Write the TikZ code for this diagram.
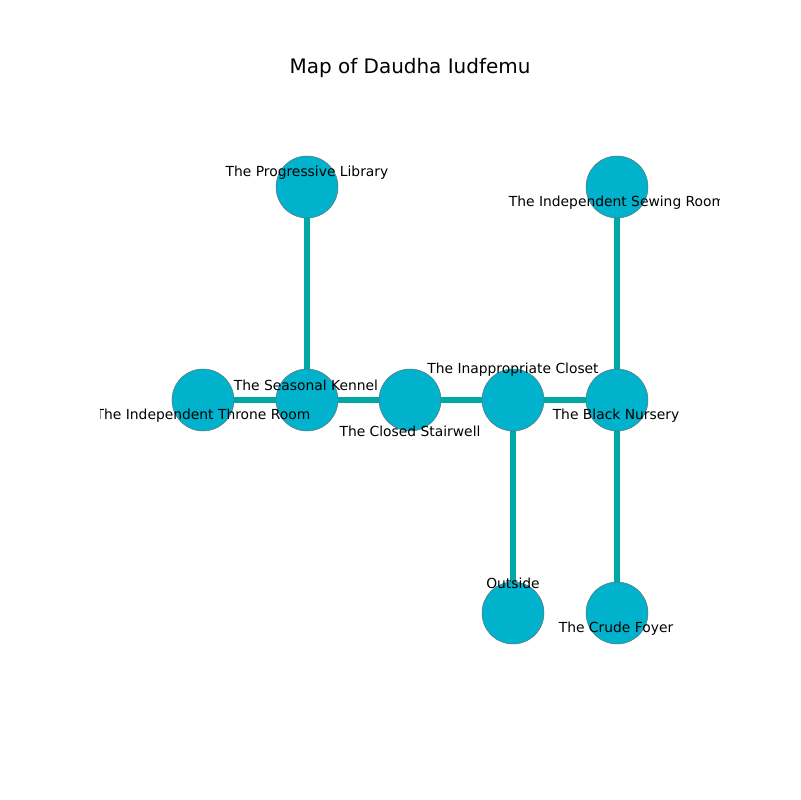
\documentclass[tikz,border=0pt]{standalone}
\usepackage{fontspec}
\setmainfont{DejaVu Sans}
\usetikzlibrary{backgrounds}
\definecolor{roomfill}{HTML}{00B2CC}
\definecolor{halledge}{HTML}{00A8A8}
\tikzstyle{roomnode}=[circle, fill=roomfill, draw=gray!80!black, line width=0.3pt, minimum size=1.55cm, inner sep=0]
\tikzstyle{hallline}=[halledge, line width=4pt]
\tikzstyle{roomlabel}=[font=\fontsize{9.85}{12}\selectfont, inner sep=0]

\begin{document}
\begin{tikzpicture}[x=0.025cm, y=-0.025cm]
      \useasboundingbox (0,0) rectangle (800,800);
      \node[font=\fontsize{14.2}{17}\selectfont] (T) at (410,68) {Map of Daudha Iudfemu};
      % rooms
      \node[roomnode] (N1) at (307,187) {};
      \node[roomnode] (N2) at (617,187) {};
      \node[roomnode] (N3) at (203,400) {};
      \node[roomnode] (N4) at (307,400) {};
      \node[roomnode] (N5) at (410,400) {};
      \node[roomnode] (N6) at (513,400) {};
      \node[roomnode] (N7) at (617,400) {};
      \node[roomnode] (N8) at (513,613) {};
      \node[roomnode] (N9) at (617,613) {};
      % halls
      \begin{scope}[on background layer]
        \draw[hallline] (N1.center) -- (N4.center);
        \draw[hallline] (N3.center) -- (N4.center);
        \draw[hallline] (N4.center) -- (N5.center);
        \draw[hallline] (N5.center) -- (N6.center);
        \draw[hallline] (N6.center) -- (N7.center);
        \draw[hallline] (N2.center) -- (N7.center);
        \draw[hallline] (N6.center) -- (N8.center);
        \draw[hallline] (N7.center) -- (N9.center);
      \end{scope}
      % labels
      \begin{scope}
        \clip (100,96) rectangle (719,712);
        \node[roomlabel] (L1) at (307,173) {The Progressive Library};
        \node[roomlabel] (L2) at (617,203) {The Independent Sewing Room};
        \node[roomlabel] (L3) at (203,416) {The Independent Throne Room};
        \node[roomlabel] (L4) at (306,385) {The Seasonal Kennel};
        \node[roomlabel] (L5) at (410,431) {The Closed Stairwell};
        \node[roomlabel] (L6) at (513,370) {The Inappropriate Closet};
        \node[roomlabel] (L7) at (616,416) {The Black Nursery};
        \node[roomlabel] (L8) at (513,583) {Outside};
        \node[roomlabel] (L9) at (616,629) {The Crude Foyer};
      \end{scope}
    \end{tikzpicture}
\end{document}
